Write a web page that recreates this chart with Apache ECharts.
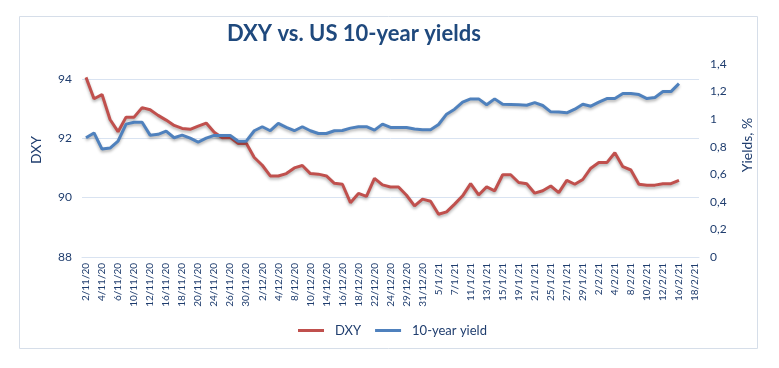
<!DOCTYPE html>
<html>
<head>
<meta charset="utf-8">
<script src="https://cdn.jsdelivr.net/npm/echarts@6/dist/echarts.min.js"></script>
<style>html,body{margin:0;padding:0;background:#fff}#c{width:779px;height:368px}</style>
</head>
<body>
<div id="c"></div>
<script>
const categories = [
 '2/11/20','3/11/20','4/11/20','5/11/20','6/11/20','9/11/20','10/11/20','11/11/20','12/11/20','13/11/20',
 '16/11/20','17/11/20','18/11/20','19/11/20','20/11/20','23/11/20','24/11/20','25/11/20','26/11/20','27/11/20',
 '30/11/20','1/12/20','2/12/20','3/12/20','4/12/20','7/12/20','8/12/20','9/12/20','10/12/20','11/12/20',
 '14/12/20','15/12/20','16/12/20','17/12/20','18/12/20','21/12/20','22/12/20','23/12/20','24/12/20','28/12/20',
 '29/12/20','30/12/20','31/12/20','4/1/21','5/1/21','6/1/21','7/1/21','8/1/21','11/1/21','12/1/21',
 '13/1/21','14/1/21','15/1/21','18/1/21','19/1/21','20/1/21','21/1/21','22/1/21','25/1/21','26/1/21',
 '27/1/21','28/1/21','29/1/21','1/2/21','2/2/21','3/2/21','4/2/21','5/2/21','8/2/21','9/2/21',
 '10/2/21','11/2/21','12/2/21','15/2/21','16/2/21','17/2/21','18/2/21'
];
const dxy = [
 94.05, 93.33, 93.47, 92.63, 92.22, 92.71, 92.71, 93.03, 92.96, 92.77,
 92.61, 92.43, 92.33, 92.30, 92.41, 92.51, 92.20, 92.02, 92.02, 91.82,
 91.83, 91.35, 91.09, 90.73, 90.73, 90.81, 91.00, 91.08, 90.81, 90.79,
 90.73, 90.48, 90.45, 89.83, 90.14, 90.04, 90.65, 90.43, 90.36, 90.36,
 90.08, 89.72, 89.95, 89.88, 89.44, 89.52, 89.78, 90.06, 90.47, 90.09,
 90.36, 90.23, 90.77, 90.77, 90.51, 90.47, 90.15, 90.23, 90.39, 90.17,
 90.58, 90.45, 90.61, 90.99, 91.18, 91.18, 91.51, 91.04, 90.93, 90.45,
 90.42, 90.42, 90.47, 90.47, 90.58, null, null
];
const yields10 = [
 0.865, 0.90, 0.783, 0.79, 0.84, 0.964, 0.978, 0.978, 0.884, 0.89,
 0.913, 0.865, 0.884, 0.862, 0.834, 0.862, 0.882, 0.882, 0.882, 0.84,
 0.84, 0.916, 0.945, 0.916, 0.969, 0.94, 0.916, 0.945, 0.916, 0.896,
 0.896, 0.916, 0.918, 0.935, 0.945, 0.945, 0.92, 0.964, 0.94, 0.94,
 0.94, 0.928, 0.923, 0.923, 0.961, 1.036, 1.072, 1.123, 1.147, 1.147,
 1.104, 1.147, 1.108, 1.106, 1.104, 1.101, 1.12, 1.099, 1.053, 1.051,
 1.046, 1.072, 1.108, 1.094, 1.123, 1.149, 1.149, 1.186, 1.186, 1.178,
 1.149, 1.157, 1.2, 1.2, 1.258, null, null
];
const seriesNames = ['DXY', '10-year yield'];

const txt = '#1f3d6e';
const font = 'Lato, "Open Sans", sans-serif';
const grid = '#d9e3f1';
const chart = echarts.init(document.getElementById('c'), null, {renderer: 'canvas'});
chart.setOption({
  backgroundColor: '#fff',
  animation: false,
  title: {
    text: 'DXY vs. US 10-year yields',
    left: 222, top: 18,
    textStyle: {color: '#1f497d', fontFamily: font, fontWeight: 'bold', fontSize: 22}
  },
  graphic: [
    {type: 'rect', shape: {x: 19.5, y: 16.5, width: 738, height: 332}, style: {fill: null, stroke: '#d6dee9', lineWidth: 1}, silent: true, z: -1},
    {type: 'text', x: 36, y: 150, rotation: Math.PI / 2, style: {text: 'DXY', fill: txt, font: '14px ' + font, align: 'center', verticalAlign: 'middle'}},
    {type: 'text', x: 747, y: 145, rotation: Math.PI / 2, style: {text: 'Yields, %', fill: txt, font: '14px ' + font, align: 'center', verticalAlign: 'middle'}}
  ],
  legend: {
    data: seriesNames,
    left: 293, top: 319,
    icon: 'rect', itemWidth: 26, itemHeight: 3, itemGap: 14,
    textStyle: {color: txt, fontFamily: font, fontSize: 13, padding: [0, 0, 0, 6]}
  },
  grid: {left: 82, right: 80, top: 64, bottom: 111, containLabel: false},
  xAxis: {
    type: 'category',
    data: categories,
    boundaryGap: true,
    axisLine: {show: true, lineStyle: {color: grid, width: 1}},
    axisTick: {show: false},
    axisLabel: {interval: 1, rotate: 90, color: txt, fontFamily: font, fontSize: 10, margin: 6}
  },
  yAxis: [
    {
      type: 'value', min: 88, max: 94.5, interval: 2,
      axisLine: {show: false}, axisTick: {show: false},
      axisLabel: {color: txt, fontFamily: font, fontSize: 12, margin: 10, showMaxLabel: false},
      splitLine: {show: true, showMaxLine: false, lineStyle: {color: grid, width: 1}}
    },
    {
      type: 'value', min: 0, max: 1.4, interval: 0.2, position: 'right',
      axisLine: {show: false}, axisTick: {show: false},
      axisLabel: {color: txt, fontFamily: font, fontSize: 12, margin: 11,
        formatter: v => String(+v.toFixed(1)).replace('.', ',')},
      splitLine: {show: false}
    }
  ],
  series: [
    {
      name: 'DXY', type: 'line', yAxisIndex: 0, data: dxy,
      symbol: 'none', connectNulls: false,
      itemStyle: {color: '#c0504d'},
      lineStyle: {color: '#c0504d', width: 3, shadowColor: 'rgba(0,0,0,0.3)', shadowBlur: 3, shadowOffsetY: 2}
    },
    {
      name: '10-year yield', type: 'line', yAxisIndex: 1, data: yields10,
      symbol: 'none', connectNulls: false,
      itemStyle: {color: '#4f81bd'},
      lineStyle: {color: '#4f81bd', width: 3, shadowColor: 'rgba(0,0,0,0.3)', shadowBlur: 3, shadowOffsetY: 2}
    }
  ]
});
</script>
</body>
</html>
